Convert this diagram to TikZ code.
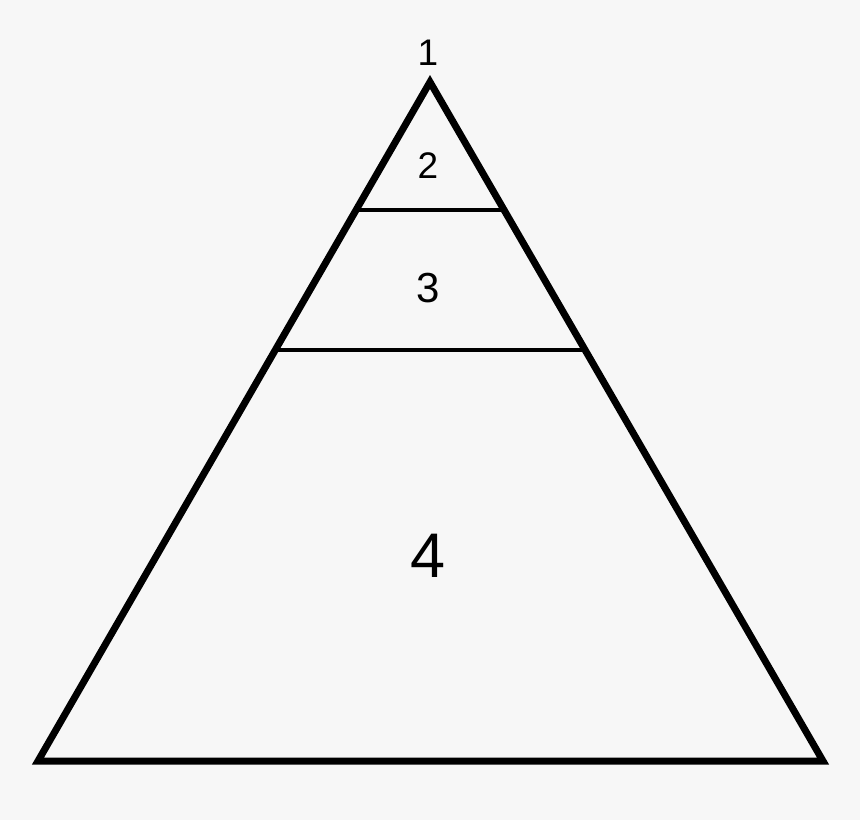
\documentclass[tikz,border=0pt]{standalone}
\usepackage{fontspec}
\setmainfont{Liberation Sans}
\usetikzlibrary{calc}
\definecolor{bg}{HTML}{F7F7F7}
\begin{document}
\begin{tikzpicture}[x=1pt,y=-1pt,
  outer/.style={line width=7pt, line join=miter},
  inner/.style={line width=3.5pt},
  lab/.style={inner sep=0pt, anchor=center}]
\fill[bg] (0,0) rectangle (860,820);
\useasboundingbox (0,0) rectangle (860,820);
\coordinate (A) at (430,82);
\coordinate (B) at (38,761);
\coordinate (C) at (823,761);
\draw[outer] (A) -- (B) -- (C) -- cycle;
\coordinate (L1) at ($(B)!0.8115!(A)$);
\coordinate (R1) at ($(C)!0.8115!(A)$);
\coordinate (L2) at ($(B)!0.6053!(A)$);
\coordinate (R2) at ($(C)!0.6053!(A)$);
\draw[inner] (L1) -- (R1);
\draw[inner] (L2) -- (R2);
\node[lab, font=\fontsize{37}{44}\selectfont] (n1) at (428,53) {1};
\node[lab, font=\fontsize{37}{44}\selectfont] (n2) at (428,166) {2};
\node[lab, font=\fontsize{42}{50}\selectfont] (n3) at (428,288) {3};
\node[lab, font=\fontsize{63}{75}\selectfont] (n4) at (428,556) {4};
\end{tikzpicture}
\end{document}
